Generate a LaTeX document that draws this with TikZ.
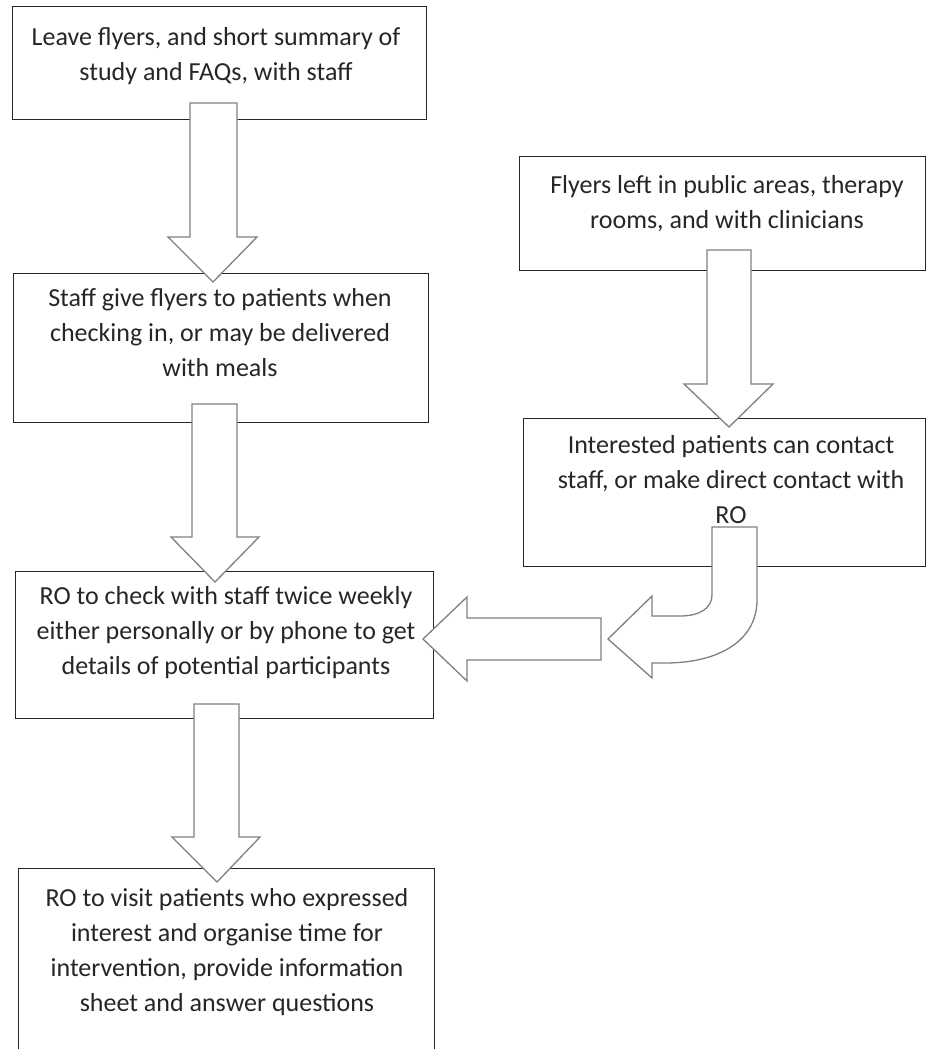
\documentclass[tikz,border=0pt]{standalone}
\usepackage{fontspec}
\setmainfont{Carlito}
\begin{document}
\begin{tikzpicture}[x=1pt,y=-1pt,
  box/.style={draw=black!85, line width=1.4pt, inner sep=0pt, anchor=north west},
  txt/.style={align=center, font=\fontsize{26}{35}\selectfont, text=black!85, inner sep=0pt, anchor=north},
  blk/.style={draw=black!50, line width=1.3pt, fill=white, line join=miter}]
\useasboundingbox (0,0) rectangle (927,1049);
\begin{scope}
\clip (0,0) rectangle (927,1049);
% boxes
\node[box, minimum width=414pt, minimum height=113pt] (b1) at (12,6) {};
\node[box, minimum width=415pt, minimum height=149pt] (b2) at (13,273) {};
\node[box, minimum width=418pt, minimum height=147pt] (b3) at (15,571) {};
\node[box, minimum width=416pt, minimum height=200pt] (b4) at (18,868) {};
\node[box, minimum width=406pt, minimum height=114pt] (r1) at (519,156) {};
\node[box, minimum width=402pt, minimum height=148pt] (r2) at (523,418) {};
% texts
\node[txt] (t1) at (216,27) {Leave flyers, and short summary of\\study and FAQs, with staff};
\node[txt] (t2) at (220,288) {Staff give flyers to patients when\\checking in, or may be delivered\\with meals};
\node[txt] (t3) at (226,586) {RO to check with staff twice weekly\\either personally or by phone to get\\details of potential participants};
\node[txt] (t4) at (227,888) {RO to visit patients who expressed\\interest and organise time for\\intervention, provide information\\sheet and answer questions};
\node[txt] (t5) at (727,175) {Flyers left in public areas, therapy\\rooms, and with clinicians};
\node[txt] (t6) at (731,435) {Interested patients can contact\\staff, or make direct contact with\\RO};
% block arrows
\draw[blk] (190,103) -- (237,103) -- (237,237) -- (257,237) -- (213,282) -- (168,237) -- (190,237) -- cycle;
\draw[blk] (192,404) -- (237,404) -- (237,537) -- (259,537) -- (215,582) -- (171,537) -- (192,537) -- cycle;
\draw[blk] (194,704) -- (239,704) -- (239,837) -- (260,837) -- (217,882) -- (172,837) -- (194,837) -- cycle;
\draw[blk] (707,250) -- (751,250) -- (751,384) -- (773,384) -- (729,427) -- (684,384) -- (707,384) -- cycle;
\draw[blk] (601,618) -- (601,660) -- (467,660) -- (467,681) -- (423,639) -- (467,597) -- (467,618) -- cycle;
\draw[blk] (712,527) -- (757,527) -- (757,600) .. controls (757,640) and (720,663) .. (665,663) -- (652,663) -- (652,678) -- (608,639) -- (652,596) -- (652,616) -- (680,616) .. controls (700,616) and (712,608) .. (712,595) -- cycle;
\end{scope}
\end{tikzpicture}
\end{document}
